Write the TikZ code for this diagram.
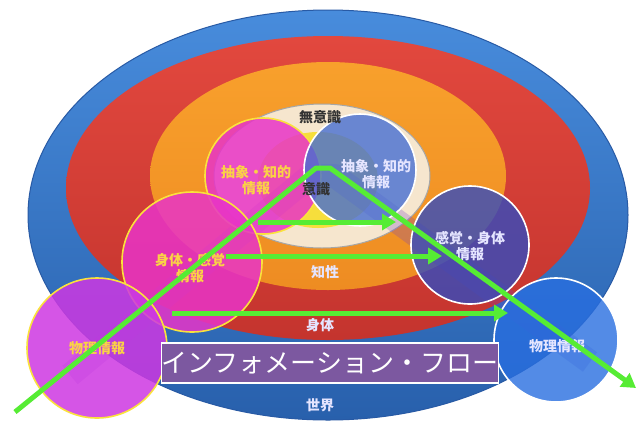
\documentclass[tikz,border=0pt]{standalone}
\usepackage{fontspec}
\setmainfont{Noto Sans CJK JP}
\usetikzlibrary{arrows.meta}
\definecolor{worldblue}{RGB}{52,112,196}
\definecolor{worldtop}{RGB}{72,140,220}
\definecolor{worldbot}{RGB}{40,96,172}
\definecolor{worldedge}{RGB}{40,90,165}
\definecolor{bodytop}{RGB}{226,72,62}
\definecolor{bodybot}{RGB}{196,52,46}
\definecolor{inttop}{RGB}{248,160,44}
\definecolor{intbot}{RGB}{238,140,34}
\definecolor{palebeige}{RGB}{246,230,206}
\definecolor{consyellow}{RGB}{246,222,60}
\definecolor{pinkc}{RGB}{232,52,200}
\definecolor{violetc}{RGB}{206,56,226}
\definecolor{bluec}{RGB}{70,110,210}
\definecolor{bluec2}{RGB}{52,76,190}
\definecolor{bluec3}{RGB}{40,110,224}
\definecolor{ringyellow}{RGB}{250,226,60}
\definecolor{labyellow}{RGB}{250,210,70}
\definecolor{flowgreen}{RGB}{86,236,52}
\definecolor{titlepurple}{RGB}{124,88,160}
\definecolor{bandviolet}{RGB}{110,60,200}
\tikzset{
  pinkcircle/.style={fill=pinkc, fill opacity=0.85, draw=ringyellow, draw opacity=1, line width=1.6pt},
  bluecircle/.style={fill=bluec, fill opacity=0.8, draw=white, draw opacity=1, line width=1.6pt},
  ylab/.style={text=labyellow, font=\bfseries\fontsize{14}{16}\selectfont, align=center, inner sep=0pt},
  wlab/.style={text=white!90!blue, font=\bfseries\fontsize{14}{16}\selectfont, align=center, inner sep=0pt},
  dlab/.style={text=black!80, font=\bfseries\fontsize{14}{16}\selectfont, inner sep=0pt},
  flow/.style={draw=flowgreen, line width=5pt, -{Triangle[length=14pt,width=16pt]}},
}
\begin{document}
\begin{tikzpicture}[x=1pt,y=-1pt]
\useasboundingbox (0,0) rectangle (642,424);
\fill[white] (0,0) rectangle (642,424);
% nested layers
\shade[top color=worldtop, bottom color=worldbot] (328,215) ellipse (300 and 205);
\draw[worldedge, line width=1pt] (328,215) ellipse (300 and 205);
\shade[top color=bodytop, bottom color=bodybot] (328,188) ellipse (262 and 152);
\shade[top color=inttop, bottom color=intbot] (328,176) ellipse (178 and 114);
\fill[palebeige, draw=gray!70, line width=1pt] (322,176) ellipse (108 and 72);
\fill[consyellow] (318,180) ellipse (60 and 48);
% translucent 3D flow band
\draw[bandviolet, opacity=0.25, line width=24pt, line join=round] (70,375) -- (310,176) -- (335,176) -- (590,362);
% circles
\fill[pinkcircle] (263,176) circle (58);
\fill[bluecircle] (360,170) circle (56);
\fill[pinkcircle] (192,262) circle (70);
\fill[bluecircle, fill=bluec2] (470,245) circle (59);
\fill[pinkcircle, fill=violetc] (97,348) circle (70);
\fill[bluecircle, fill=bluec3] (556,340) circle (62);
% layer labels
\node[dlab] (muishiki) at (320,117) {無意識};
\node[dlab] (ishiki) at (316,189) {意識};
\node[wlab] (chisei) at (325,272) {知性};
\node[wlab] (shintai) at (320,325) {身体};
\node[wlab] (sekai) at (320,405) {世界};
% circle labels
\node[ylab] (absL) at (256,180) {抽象・知的\\情報};
\node[wlab] (absR) at (376,174) {抽象・知的\\情報};
\node[ylab] (bodyL) at (190,268) {身体・感覚\\情報};
\node[wlab] (bodyR) at (470,246) {感覚・身体\\情報};
\node[ylab] (physL) at (97,348) {物理情報};
\node[wlab] (physR) at (557,346) {物理情報};
% title
\node[fill=titlepurple, draw=white, line width=1.5pt, text=white, font=\fontsize{26}{28}\selectfont, minimum width=316pt, minimum height=40pt, inner sep=0pt] (title) at (330,363) {インフォメーション・フロー};
% flows
\coordinate (f0) at (15,412);
\coordinate (f1) at (316,168);
\coordinate (f2) at (330,168);
\coordinate (f3) at (636,388);
\draw[flow, line join=round] (f0) -- (f1) -- (f2) -- (f3);
\coordinate (h1a) at (258,222);
\coordinate (h1b) at (396,222);
\coordinate (h2a) at (226,256);
\coordinate (h2b) at (442,256);
\coordinate (h3a) at (172,313);
\coordinate (h3b) at (508,313);
\draw[flow] (h1a) -- (h1b);
\draw[flow] (h2a) -- (h2b);
\draw[flow] (h3a) -- (h3b);
\end{tikzpicture}
\end{document}
